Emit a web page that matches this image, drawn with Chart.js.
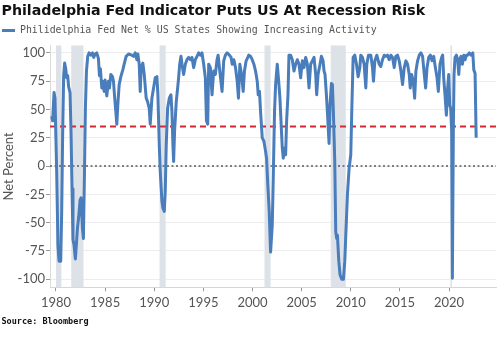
<!DOCTYPE html>
<html>
<head>
<meta charset="utf-8">
<script src="https://cdn.jsdelivr.net/npm/chart.js@4.4.1/dist/chart.umd.min.js"></script>
<style>
  html, body { margin: 0; padding: 0; background: #ffffff; }
  #wrap { width: 500px; height: 337px; position: relative; }
</style>
</head>
<body>
<div id="wrap"><canvas id="chart"></canvas></div>
<script>
// Observation dates (decimal years) and net % of US states showing increasing activity
const obsDates = [
  1979.56, 1979.66, 1979.80, 1979.90, 1980.07, 1980.20, 1980.31, 1980.48, 1980.58, 1980.68,
  1980.78, 1980.88, 1980.99, 1981.09, 1981.19, 1981.29, 1981.43, 1981.53, 1981.63, 1981.73,
  1981.84, 1981.97, 1982.07, 1982.18, 1982.31, 1982.45, 1982.55, 1982.69, 1982.79, 1982.89,
  1982.99, 1983.10, 1983.23, 1983.37, 1983.54, 1983.71, 1983.84, 1983.98, 1984.15, 1984.32,
  1984.42, 1984.52, 1984.66, 1984.76, 1984.90, 1985.00, 1985.17, 1985.34, 1985.44, 1985.58,
  1985.75, 1985.85, 1985.95, 1986.09, 1986.19, 1986.29, 1986.43, 1986.60, 1986.80, 1986.94,
  1987.14, 1987.38, 1987.72, 1987.89, 1988.06, 1988.23, 1988.33, 1988.47, 1988.57, 1988.67,
  1988.84, 1988.98, 1989.18, 1989.32, 1989.49, 1989.59, 1989.76, 1989.93, 1990.10, 1990.27,
  1990.37, 1990.51, 1990.61, 1990.78, 1990.88, 1991.02, 1991.12, 1991.22, 1991.36, 1991.53,
  1991.70, 1991.80, 1991.90, 1991.97, 1992.07, 1992.24, 1992.38, 1992.48, 1992.59, 1992.72,
  1992.82, 1992.99, 1993.16, 1993.33, 1993.50, 1993.67, 1993.84, 1994.01, 1994.18, 1994.35,
  1994.52, 1994.69, 1994.86, 1995.03, 1995.20, 1995.31, 1995.44, 1995.54, 1995.71, 1995.88,
  1996.05, 1996.22, 1996.39, 1996.50, 1996.67, 1996.90, 1997.07, 1997.24, 1997.41, 1997.65,
  1997.82, 1997.93, 1998.10, 1998.27, 1998.44, 1998.57, 1998.71, 1998.88, 1999.05, 1999.18,
  1999.35, 1999.52, 1999.62, 1999.80, 1999.97, 2000.14, 2000.31, 2000.48, 2000.58, 2000.71,
  2000.82, 2000.99, 2001.16, 2001.33, 2001.43, 2001.56, 2001.70, 2001.84, 2002.01, 2002.11,
  2002.24, 2002.35, 2002.52, 2002.69, 2002.79, 2002.93, 2003.03, 2003.13, 2003.27, 2003.37,
  2003.47, 2003.61, 2003.71, 2003.88, 2004.05, 2004.22, 2004.39, 2004.56, 2004.73, 2004.90,
  2005.07, 2005.24, 2005.41, 2005.58, 2005.75, 2005.92, 2006.09, 2006.26, 2006.43, 2006.53,
  2006.67, 2006.87, 2007.01, 2007.18, 2007.28, 2007.38, 2007.52, 2007.62, 2007.79, 2007.89,
  2008.03, 2008.13, 2008.23, 2008.37, 2008.47, 2008.57, 2008.64, 2008.78, 2008.91, 2009.08,
  2009.25, 2009.39, 2009.52, 2009.66, 2009.83, 2010.00, 2010.10, 2010.24, 2010.41, 2010.58,
  2010.75, 2010.92, 2011.02, 2011.19, 2011.36, 2011.53, 2011.63, 2011.80, 2012.04, 2012.21,
  2012.31, 2012.45, 2012.65, 2012.89, 2013.06, 2013.23, 2013.40, 2013.57, 2013.74, 2013.91,
  2014.08, 2014.25, 2014.42, 2014.59, 2014.76, 2014.93, 2015.10, 2015.27, 2015.44, 2015.61,
  2015.78, 2015.95, 2016.05, 2016.19, 2016.36, 2016.50, 2016.63, 2016.80, 2016.97, 2017.14,
  2017.31, 2017.48, 2017.62, 2017.76, 2017.93, 2018.10, 2018.27, 2018.44, 2018.61, 2018.78,
  2018.91, 2019.08, 2019.25, 2019.35, 2019.46, 2019.59, 2019.73, 2019.86, 2019.97, 2020.07,
  2020.17, 2020.27, 2020.34, 2020.44, 2020.51, 2020.61, 2020.75, 2020.88, 2020.99, 2021.09,
  2021.22, 2021.36, 2021.50, 2021.63, 2021.77, 2021.90, 2022.07, 2022.24, 2022.42, 2022.52,
  2022.65, 2022.76
];
const netPct = [
    44,   40,   65,   60,   -5,  -70,  -84,  -84,  -40,   30,
    80,   91,   86,   78,   80,   70,   65,   30,  -20,  -65,
   -70,  -82,  -70,  -55,  -45,  -30,  -28,  -55,  -64,  -10,
    50,   84,   97,  100,   98,  100,   96,   99,  100,   95,
    80,   86,   69,   75,   66,   76,   62,   75,   69,   81,
    79,   75,   63,   48,   37,   54,   72,   79,   85,   90,
    97,   99,   98,   97,  100,   94,   99,   90,   66,   87,
    91,   81,   60,   57,   51,   37,   60,   69,   78,   79,
    63,   19,   -5,  -31,  -37,  -40,  -22,   19,   51,   60,
    63,   48,   19,    4,   31,   57,   69,   78,   90,   97,
    90,   81,   90,   94,   96,   94,   96,   87,   94,   97,
   100,   98,  100,   90,   78,   40,   37,   90,   87,   63,
    84,   81,   94,   98,   84,   66,   93,   98,  100,   98,
    96,   90,   94,   87,   75,   60,   90,   81,   66,   84,
    93,   96,   98,   97,   94,   90,   84,   75,   63,   66,
    48,   25,   22,   13,    7,  -17,  -40,  -76,  -52,  -11,
    48,   72,   90,   72,   60,   34,   16,    7,   16,   10,
    40,   63,   98,   98,   94,   84,   90,   94,   90,   78,
    93,   87,   96,   90,   69,   90,   93,   96,   81,   63,
    81,   90,   97,   93,   84,   81,   63,   48,   20,   54,
    73,   72,   48,    4,  -58,  -64,  -61,  -84,  -96, -100,
  -100,  -84,  -55,  -25,   -2,   10,   48,   96,   98,   90,
    79,   87,   98,   96,   90,   69,   90,   98,   98,   87,
    75,   93,   98,   90,   88,   94,   98,   97,   98,   94,
    98,   96,   87,   97,   98,   93,   84,   72,   87,   93,
    90,   81,   69,   81,   75,   60,   84,   93,   98,  100,
    97,   81,   69,   87,   96,   98,   93,   97,   87,   78,
    66,   90,   96,   98,   78,   63,   45,   69,   81,   54,
    51,   31,  -99,   34,   81,   96,   98,   94,   81,   94,
    97,   90,   98,   94,   98,   98,  100,   98,  100,   85,
    82,   25
];

// Axis ticks
const tickYears = [1980, 1985, 1990, 1995, 2000, 2005, 2010, 2015, 2020];
const tickPct = [-100, -75, -50, -25, 0, 25, 50, 75, 100];

// US recessions, [start, end] in decimal years
const recessions = [
  [1980.00, 1980.55],
  [1981.55, 1982.80],
  [1990.54, 1991.16],
  [2001.22, 2001.84],
  [2007.96, 2009.49],
  [2020.14, 2020.30]
];

// Reference levels
const warnLevel = 35;
const zeroLevel = 0;

// Axis ranges
const xMin = 1979.39, xMax = 2024.78;
const yMin = -107.1, yMax = 106.6;

const seriesPoints = obsDates.map((d, i) => ({ x: d, y: netPct[i] }));
const levelLine = (v) => [{ x: xMin, y: v }, { x: xMax, y: v }];

// Shaded recession periods behind the series
const recessionBands = {
  id: 'recessionBands',
  beforeDatasetsDraw(chart) {
    const { ctx, chartArea, scales } = chart;
    const xs = scales.x;
    ctx.save();
    ctx.fillStyle = '#dde2e8';
    recessions.forEach(([a, b]) => {
      const x0 = xs.getPixelForValue(a);
      const x1 = xs.getPixelForValue(b);
      ctx.fillRect(x0, chartArea.top, x1 - x0, chartArea.bottom - chartArea.top);
    });
    ctx.restore();
  }
};

const tickFont = { family: 'Lato, "Open Sans", sans-serif', size: 13 };

new Chart(document.getElementById('chart'), {
  type: 'line',
  data: {
    datasets: [
      {
        label: 'Philidelphia Fed Net % US States Showing Increasing Activity',
        data: seriesPoints,
        borderColor: '#4a7dbb',
        backgroundColor: '#4a7dbb',
        borderWidth: 3,
        pointRadius: 0,
        tension: 0,
        borderJoinStyle: 'round',
        order: 0
      },
      {
        label: 'warn',
        data: levelLine(warnLevel),
        borderColor: '#d7282f',
        borderWidth: 2,
        borderDash: [6, 4],
        pointRadius: 0,
        order: 1
      },
      {
        label: 'zero',
        data: levelLine(zeroLevel),
        borderColor: '#5a5a5a',
        borderWidth: 1.5,
        borderDash: [2, 2.5],
        pointRadius: 0,
        order: 2
      }
    ]
  },
  options: {
    responsive: true,
    maintainAspectRatio: false,
    animation: false,
    layout: { padding: { left: 1.5, right: 4, top: 0, bottom: 0 } },
    plugins: {
      tooltip: { enabled: false },
      title: {
        display: true,
        text: 'Philadelphia Fed Indicator Puts US At Recession Risk',
        align: 'start',
        color: '#111111',
        font: { family: '"DejaVu Sans", sans-serif', weight: 'bold', size: 14.2, lineHeight: 1.2 },
        padding: { top: 3, bottom: 5 }
      },
      legend: {
        display: true,
        position: 'top',
        align: 'start',
        labels: {
          usePointStyle: true,
          pointStyle: 'line',
          pointStyleWidth: 13,
          padding: 0.5,
          color: '#555555',
          font: { family: '"DejaVu Sans Mono", monospace', size: 9.9 },
          filter: (item) => item.datasetIndex === 0
        }
      },
      subtitle: {
        display: true,
        position: 'bottom',
        align: 'start',
        text: 'Source: Bloomberg',
        color: '#111111',
        font: { family: '"DejaVu Sans Mono", monospace', weight: 'bold', size: 8.5, lineHeight: 1.2 },
        padding: { top: 0, bottom: 10 }
      }
    },
    scales: {
      x: {
        type: 'linear',
        min: xMin,
        max: xMax,
        afterFit: (s) => { s.height = 29.5; },
        afterBuildTicks: (s) => { s.ticks = tickYears.map(v => ({ value: v })); },
        grid: { drawOnChartArea: false, drawTicks: true, tickLength: 4, tickColor: '#9a9a9a' },
        border: { display: true, color: '#d6d6d6', width: 1 },
        ticks: {
          color: '#555555',
          font: tickFont,
          padding: 4,
          maxRotation: 0,
          autoSkip: false,
          callback: (v) => String(v)
        }
      },
      y: {
        type: 'linear',
        min: yMin,
        max: yMax,
        afterFit: (s) => { s.width = 48.5; },
        afterBuildTicks: (s) => { s.ticks = tickPct.map(v => ({ value: v })); },
        grid: { color: '#ededed', lineWidth: 1, drawTicks: true, tickLength: 4, tickColor: '#9a9a9a' },
        border: { display: true, color: '#dcdcdc', width: 1 },
        title: {
          display: true,
          text: 'Net Percent',
          color: '#555555',
          font: { family: 'Lato, "Open Sans", sans-serif', size: 13 },
          padding: { top: 0, bottom: 0 }
        },
        ticks: {
          color: '#555555',
          font: tickFont,
          padding: 1,
          autoSkip: false,
          callback: (v) => String(v)
        }
      }
    }
  },
  plugins: [recessionBands]
});
</script>
</body>
</html>
